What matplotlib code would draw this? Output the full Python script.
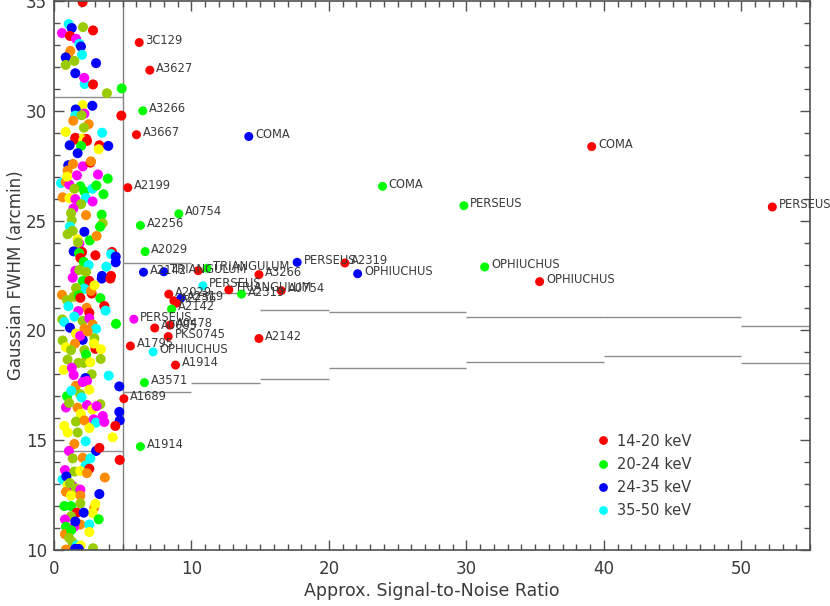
import matplotlib
matplotlib.use("Agg")
import matplotlib.pyplot as plt
from matplotlib.lines import Line2D
import numpy as np

# ---------------- data ----------------
label_names = ["3C129", "A3627", "A3266", "A3667", "COMA", "A2199", "A0754", "A2256",
               "COMA", "COMA", "PERSEUS", "PERSEUS", "A2319", "OPHIUCHUS", "OPHIUCHUS",
               "OPHIUCHUS", "A2029", "A2142", "TRIANGULUM", "", "TRIANGULUM", "A3266",
               "PERSEUS", "PERSEUS", "TRIANGULUM", "A2319", "A0754", "A2029", "A2256",
               "A2319", "", "A2142", "PERSEUS", "A0085", "A0478", "PKS0745", "A1795",
               "OPHIUCHUS", "A1914", "A2142", "A3571", "A1689", "A1914"]
label_snr = [6.20, 6.97, 6.46, 6.00, 14.17, 5.37, 9.08, 6.29,
             39.12, 23.90, 29.82, 52.26, 21.16, 22.09, 31.33,
             35.33, 6.63, 6.51, 7.99, 10.49, 11.14, 14.91,
             17.69, 10.83, 12.72, 13.64, 16.53, 8.35, 8.72,
             9.23, 8.91, 8.55, 5.81, 7.33, 8.43, 8.31, 5.56,
             7.21, 8.84, 14.91, 6.58, 5.08, 6.29]
label_fwhm = [33.11, 31.85, 30.00, 28.91, 28.83, 26.50, 25.31, 24.78,
              28.37, 26.56, 25.68, 25.62, 23.07, 22.58, 22.89,
              22.22, 23.59, 22.65, 22.67, 22.72, 22.83, 22.54,
              23.10, 22.03, 21.85, 21.65, 21.81, 21.65, 21.35,
              21.46, 21.24, 20.97, 20.51, 20.11, 20.24, 19.72, 19.29,
              19.02, 18.42, 19.63, 17.62, 16.89, 14.71]
label_band = ["R", "R", "G", "R", "B", "R", "G", "G",
              "R", "G", "G", "R", "R", "B", "G",
              "R", "G", "B", "B", "R", "G", "R",
              "B", "C", "R", "G", "R", "R", "R",
              "B", "R", "G", "M", "R", "R", "R", "R",
              "C", "R", "R", "G", "R", "G"]

cluster_snr = [2.08, 1.07, 1.29, 2.11, 2.84, 0.58, 1.16, 1.60, 1.84, 1.96, 1.19, 1.04, 2.04,
               0.85, 1.48, 0.85, 3.06, 1.55, 2.23, 2.84, 4.93, 2.09, 2.79, 1.58, 1.55, 2.21,
               2.01, 4.90, 2.52, 2.18, 0.85, 1.55, 2.09, 2.35,
               1.55, 2.13, 2.40, 1.14, 1.97, 3.30, 3.25, 3.95, 1.72, 1.04, 1.38, 2.09, 2.65,
               2.69, 0.99, 1.67, 0.51, 0.85, 1.12, 1.92, 1.48, 2.21, 2.79, 3.08, 3.91, 0.63,
               1.12, 2.31, 1.55, 1.97, 2.81, 1.41, 1.24, 2.33, 3.47, 1.29, 1.16, 3.54, 3.35,
               1.36, 0.99, 2.21, 1.72, 1.84, 2.04, 1.43, 1.82, 3.01, 4.22, 4.15, 4.49, 1.92,
               2.16, 2.52, 3.81, 1.55, 1.84, 2.33, 4.15, 3.49, 4.49,
               1.36, 2.09, 2.57, 3.47, 4.10, 2.21, 1.60, 0.58, 0.95, 1.43, 1.80, 1.92, 2.74,
               3.37, 3.66, 2.38, 1.77, 2.57, 0.60, 0.75, 1.48, 2.09, 2.57, 2.81, 3.06, 1.16,
               2.21, 4.51, 1.60, 0.63, 2.09, 1.90, 2.94, 1.53, 0.87, 1.24, 3.01, 3.42, 2.21,
               2.33, 0.99, 1.77, 2.16, 2.64, 1.43, 2.74, 3.98, 2.28, 2.40, 2.57, 1.60, 2.09,
               0.95, 1.90, 1.26, 4.75, 0.87, 1.72, 2.40, 2.79, 3.37, 4.75, 1.10, 3.10, 1.95,
               0.75, 1.60, 2.21, 2.89, 3.06, 3.66, 4.78, 4.46, 0.99, 1.72, 2.57, 4.27, 1.48,
               2.30, 1.09, 3.06, 3.30, 1.36, 2.09, 2.64, 4.78, 2.31, 0.80, 1.48, 2.57, 1.90,
               0.63, 0.90, 2.40, 0.99, 1.34, 1.60, 0.87, 1.92, 1.24, 1.92, 3.30, 1.92, 0.75,
               1.24, 2.93, 3.00, 2.81, 1.65, 1.24, 2.16, 0.80, 1.92, 2.57, 0.87, 1.48, 1.55,
               0.80, 2.57, 1.24, 1.34, 1.10, 1.65, 1.94, 0.87, 2.84, 1.53, 1.80,
               0.70, 1.30, 2.45, 1.05, 1.75, 2.60, 0.95, 1.40, 2.20, 1.15, 2.00, 2.70,
               3.20, 3.60, 3.10, 3.75, 2.90, 3.40, 3.55, 3.70, 3.25, 2.95, 3.85, 3.50]
cluster_fwhm = [34.95, 33.95, 33.77, 33.81, 33.66, 33.54, 33.41, 33.28, 33.05, 32.93, 32.73, 32.52, 32.55,
                32.43, 32.27, 32.09, 32.17, 31.71, 31.22, 31.20, 31.02, 30.26, 30.23, 30.06, 29.78, 29.87,
                29.80, 29.78, 29.39, 29.23, 29.04, 28.77, 28.74, 28.72,
                28.69, 28.66, 28.63, 28.43, 28.40, 28.43, 28.25, 28.40, 28.07, 27.52, 27.58, 27.47, 27.64,
                27.70, 27.28, 27.06, 26.71, 26.76, 26.64, 26.56, 26.45, 26.33, 26.45, 26.60, 26.91, 26.06,
                26.03, 26.03, 25.98, 25.75, 25.87, 25.55, 25.34, 25.25, 25.27, 25.02, 24.73, 24.88, 24.72,
                24.53, 24.38, 24.49, 24.15, 23.94, 23.57, 23.60, 23.52, 23.42, 23.57, 23.48, 23.36, 23.30,
                23.12, 22.97, 22.90, 22.71, 22.75, 22.66, 22.48, 22.48, 23.10,
                22.40, 22.25, 22.25, 22.36, 22.36, 21.90, 21.93, 21.62, 21.38, 21.53, 21.60, 21.48, 21.68,
                21.47, 21.11, 21.03, 20.88, 20.80, 20.50, 20.38, 20.63, 20.43, 20.55, 20.27, 20.07, 20.12,
                20.07, 20.30, 19.86, 19.54, 19.57, 19.75, 19.64, 19.40, 19.23, 19.10, 19.16, 19.14, 19.10,
                18.90, 18.67, 18.52, 18.52, 18.55, 17.97, 18.00, 17.94, 17.83, 17.70, 17.30, 17.48, 17.65,
                17.00, 17.10, 17.25, 17.45, 16.49, 16.48, 16.60, 16.40, 16.64, 16.29, 16.70, 16.55, 16.20,
                15.65, 15.85, 15.90, 15.95, 15.80, 15.83, 15.90, 15.65, 15.35, 15.35, 15.55, 15.13, 14.83,
                14.95, 14.51, 14.51, 14.65, 14.17, 14.20, 14.17, 14.10, 13.85, 13.64, 13.57, 13.70, 13.60,
                13.21, 13.35, 13.50, 12.96, 12.92, 12.80, 12.65, 12.75, 12.48, 12.48, 12.55, 12.12, 12.00,
                12.00, 11.93, 12.10, 11.69, 11.70, 11.54, 11.70, 11.39, 11.16, 11.16, 11.06, 11.06, 11.30,
                10.72, 10.82, 10.90, 10.36, 10.55, 10.21, 10.21, 10.02, 10.08, 10.05, 10.05,
                18.20, 18.30, 19.95, 21.10, 24.00, 24.10, 27.00, 29.55, 31.50, 13.05, 16.95, 21.80,
                27.10, 26.20, 24.30, 20.90, 19.40, 18.70, 16.10, 13.30, 11.40, 22.05, 30.80, 29.00]
cluster_band = ["R", "C", "B", "L", "R", "M", "R", "M", "C", "B", "O", "O", "C",
                "B", "L", "L", "B", "B", "C", "R", "G", "Y", "B", "B", "C", "M",
                "L", "R", "O", "L", "Y", "R", "Y", "R",
                "R", "Y", "R", "B", "G", "R", "Y", "B", "B", "B", "O", "M", "R",
                "O", "O", "M", "C", "O", "M", "G", "L", "G", "C", "G", "G", "O",
                "Y", "C", "M", "L", "M", "M", "L", "O", "G", "L", "C", "L", "G",
                "L", "L", "B", "Y", "M", "R", "B", "G", "R", "R", "C", "B", "R",
                "G", "C", "C", "M", "L", "L", "R", "B", "B",
                "M", "G", "R", "B", "R", "C", "L", "O", "L", "L", "G", "R", "R",
                "G", "R", "O", "M", "R", "L", "C", "C", "L", "M", "O", "C", "B",
                "O", "G", "Y", "L", "B", "M", "L", "O", "Y", "L", "R", "Y", "L",
                "G", "L", "L", "L", "Y", "M", "L", "C", "B", "M", "Y", "O", "M",
                "G", "L", "C", "B", "M", "O", "M", "Y", "L", "B", "L", "M", "Y",
                "Y", "L", "O", "M", "C", "M", "B", "R", "Y", "L", "Y", "Y", "O",
                "C", "M", "B", "R", "L", "O", "C", "R", "C", "M", "L", "R", "Y",
                "C", "B", "O", "Y", "M", "L", "O", "M", "Y", "O", "B", "L", "G",
                "G", "O", "Y", "Y", "R", "L", "B", "M", "O", "C", "G", "M", "B",
                "O", "Y", "G", "L", "L", "C", "Y", "O", "L", "B", "B",
                "Y", "M", "O", "C", "L", "G", "Y", "O", "M", "L", "C", "O",
                "M", "G", "O", "C", "Y", "L", "M", "O", "G", "Y", "L", "C"]

bin_edges = [0, 5, 10, 15, 20, 30, 40, 50, 55]
upper_limit = [30.65, 23.07, 21.69, 20.95, 20.82, 20.62, 20.59, 20.22]
lower_limit = [14.49, 17.18, 17.59, 17.77, 18.30, 18.56, 18.82, 18.51]
snr_cut = 5

legend_bands = ["14-20 keV", "20-24 keV", "24-35 keV", "35-50 keV"]
legend_keys = ["R", "G", "B", "C"]

colour_map = {"R": "#ff0000", "G": "#00ff00", "B": "#0000ff", "C": "#00ffff",
              "M": "#ff00ff", "Y": "#ffff00", "O": "#ff8c00", "L": "#99cc00"}

# ---------------- plot ----------------
TXT = "#3a3a3a"
AXC = "#505050"
plt.rcParams["font.family"] = ["DejaVu Sans"]

fig = plt.figure(figsize=(8.30, 6.06), dpi=100)
ax = fig.add_axes([54 / 830, 1 - 550 / 606, 756 / 830, 549 / 606])

ax.axvline(snr_cut, color="#808080", lw=1.0, zorder=1)
for i in range(len(upper_limit)):
    ax.hlines([upper_limit[i], lower_limit[i]], bin_edges[i], bin_edges[i + 1],
              color="#8c8c8c", lw=1.0, zorder=1)

ax.scatter(cluster_snr, cluster_fwhm, s=52, c=[colour_map[k] for k in cluster_band],
           edgecolors="none", zorder=2)

ax.scatter(label_snr, label_fwhm, s=42, c=[colour_map[k] for k in label_band],
           edgecolors="none", zorder=3)
for name, x, y in zip(label_names, label_snr, label_fwhm):
    if name:
        ax.annotate(name, (x, y), xytext=(4.5, -1), textcoords="offset points",
                    ha="left", va="baseline", fontsize=8.3, color=TXT, zorder=4,
                    annotation_clip=False)

ax.set_xlim(0, 55)
ax.set_ylim(10, 35)
ax.set_xticks(np.arange(0, 51, 10))
ax.set_xticks(np.arange(0, 56, 1), minor=True)
ax.set_yticks(np.arange(10, 36, 5))
ax.set_yticks(np.arange(10, 36, 1), minor=True)
ax.tick_params(which="both", direction="in", top=True, right=True, colors=AXC,
               labelcolor=TXT, labelsize=12, width=1.0)
ax.tick_params(which="major", length=7)
ax.tick_params(axis="x", which="major", pad=7)
ax.tick_params(axis="y", which="major", pad=5)
ax.tick_params(which="minor", length=4)
for sp in ax.spines.values():
    sp.set_color(AXC)
    sp.set_linewidth(1.2)

ax.set_xlabel("Approx. Signal-to-Noise Ratio", fontsize=12.5, color=TXT, labelpad=3)
ax.set_ylabel("Gaussian FWHM (arcmin)", fontsize=12, color=TXT, labelpad=1)

handles = [Line2D([], [], marker="o", ls="none", markersize=6.3,
                  markerfacecolor=colour_map[k], markeredgecolor="none")
           for k in legend_keys]
leg = ax.legend(handles, legend_bands, loc="upper left", bbox_to_anchor=(0.699, 0.236),
                frameon=False, fontsize=10.5, handlelength=1.0, handletextpad=0.45,
                labelspacing=0.56, borderpad=0.4)
for t in leg.get_texts():
    t.set_color(TXT)

fig.savefig("out.png", dpi=100)
